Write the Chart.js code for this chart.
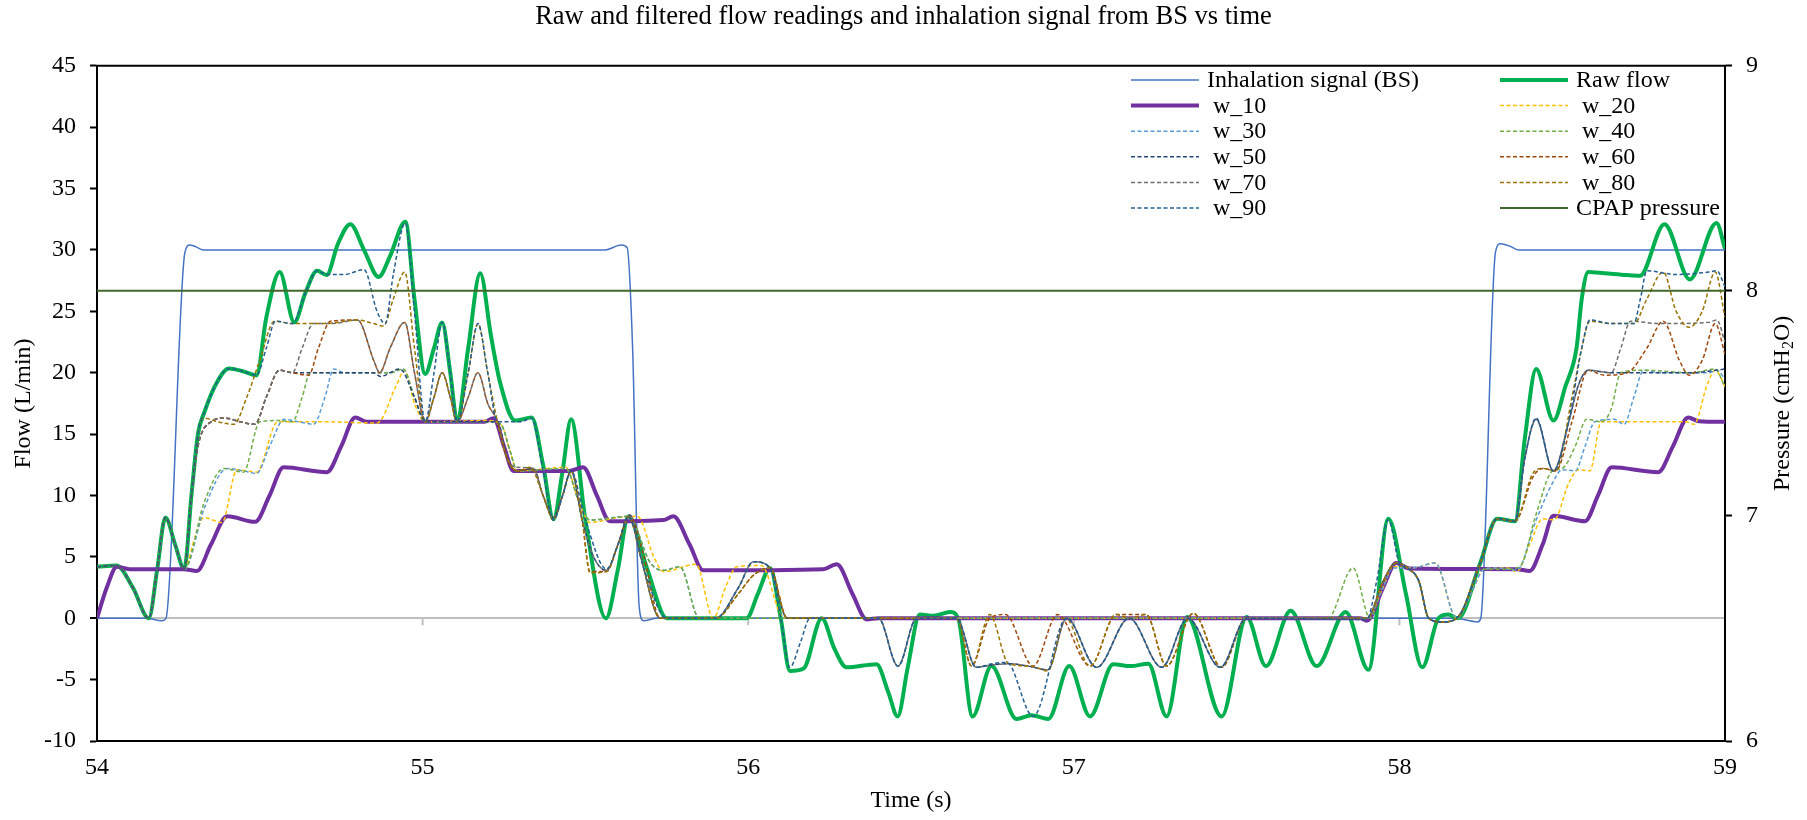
<!DOCTYPE html>
<html>
<head>
<meta charset="utf-8">
<title>Raw and filtered flow readings</title>
<script src="https://cdn.jsdelivr.net/npm/chart.js@4.4.1/dist/chart.umd.min.js"></script>
<style>
    html, body { margin: 0; padding: 0; background: #fff; }
    #wrap { width: 1807px; height: 820px; position: relative; }
</style>
</head>
<body>
<div id="wrap"><canvas id="flowChart"></canvas></div>
<script>
// Séries: pares [tempo (s), valor]
const seriesNames = ['Inhalation signal (BS)', 'Raw flow', ' w_10', ' w_20', ' w_30', ' w_40',
    ' w_50', ' w_60', ' w_70', ' w_80', ' w_90', 'CPAP pressure'];

const inhalationBS = [[54, 0], [54.15, 0], [54.2, -0.2], [54.212, 0], [54.27, 29.8], [54.285, 30.4], [54.3, 30.3],
    [54.326, 30], [55.56, 30], [55.61, 30.4], [55.628, 30.2], [55.645, 22], [55.665, 1], [55.678, -0.2], [55.72, 0],
    [58.17, 0], [58.24, -0.3], [58.25, 0], [58.295, 29.8], [58.31, 30.5], [58.34, 30.3], [58.365, 30], [59, 30]];

const rawFlow = [[54, 4.2], [54.06, 4.3], [54.11, 2.5], [54.159, 0], [54.185, 4], [54.21, 8.2], [54.24, 6], [54.268, 4],
    [54.29, 10], [54.31, 15], [54.33, 16.8], [54.368, 19.2], [54.405, 20.35], [54.45, 20.1], [54.49, 19.8], [54.52, 24.5],
    [54.561, 28.2], [54.606, 24.1], [54.64, 26.5], [54.676, 28.3], [54.705, 27.95], [54.74, 30.5], [54.778, 32.1],
    [54.82, 30], [54.865, 27.8], [54.9, 29.5], [54.947, 32.3], [54.975, 26], [55.008, 19.9], [55.035, 22], [55.06, 24.1],
    [55.085, 20], [55.106, 16.1], [55.14, 22], [55.177, 28.1], [55.21, 23], [55.238, 19.2], [55.284, 16.1],
    [55.335, 16.35], [55.37, 12.5], [55.402, 8.07], [55.43, 12], [55.456, 16.2], [55.5, 8], [55.563, 0], [55.6, 4],
    [55.632, 8.3], [55.69, 4], [55.75, 0], [55.85, 0], [55.995, 0], [56.03, 2], [56.067, 4.1], [56.1, 0], [56.128, -4.3],
    [56.17, -4.1], [56.226, 0], [56.265, -2.5], [56.302, -4], [56.394, -3.75], [56.43, -6], [56.459, -8], [56.49, -4],
    [56.527, 0.3], [56.57, 0.2], [56.62, 0.5], [56.645, 0], [56.689, -8], [56.747, -3.9], [56.824, -8.2], [56.87, -7.9],
    [56.922, -8.2], [56.986, -3.9], [57.05, -8], [57.121, -3.75], [57.175, -3.9], [57.229, -3.7], [57.285, -8],
    [57.348, 0.1], [57.454, -8], [57.531, 0.1], [57.59, -3.9], [57.666, 0.6], [57.746, -3.9], [57.835, 0.5],
    [57.905, -4.2], [57.966, 8.1], [58.02, 2], [58.07, -4], [58.12, 0], [58.15, 0.3], [58.18, 0], [58.247, 4.4],
    [58.3, 8.1], [58.355, 7.9], [58.385, 14.6], [58.42, 20.3], [58.473, 16.1], [58.51, 18.9], [58.544, 22], [58.56, 26],
    [58.58, 28.2], [58.63, 28.1], [58.7, 27.95], [58.739, 27.9], [58.814, 32.1], [58.892, 27.6], [58.974, 32.2], [59, 30.1]];

const w10 = [[54, 0], [54.03, 2.5], [54.061, 4.2], [54.1, 4], [54.266, 4], [54.307, 3.85], [54.35, 6], [54.4, 8.3],
    [54.486, 7.85], [54.53, 10], [54.573, 12.3], [54.706, 11.9], [54.75, 14], [54.793, 16.35], [54.83, 16], [55.19, 16],
    [55.218, 16.3], [55.25, 14], [55.279, 12], [55.45, 12], [55.493, 12.3], [55.535, 10], [55.575, 7.9], [55.74, 8],
    [55.77, 8.3], [55.82, 6], [55.862, 3.9], [56.23, 4], [56.272, 4.4], [56.32, 2], [56.364, -0.1], [56.4, 0],
    [57.88, 0], [57.9, -0.2], [57.95, 2.5], [57.99, 4.5], [58.03, 4.05], [58.36, 4], [58.4, 3.85], [58.44, 6],
    [58.473, 8.35], [58.57, 7.9], [58.61, 10], [58.652, 12.3], [58.795, 11.9], [58.84, 14], [58.887, 16.35],
    [58.92, 16.05], [59, 16]];

// início comum a todos os filtros tracejados
const dashStart = [[54, 4.2], [54.06, 4.3], [54.11, 2.5], [54.159, 0], [54.185, 4], [54.21, 8.2], [54.24, 6], [54.268, 4]];

const w20 = [...dashStart, [54.3, 6.5], [54.328, 8.2], [54.384, 7.8], [54.43, 12.1], [54.49, 11.9], [54.555, 16],
    [54.7, 16], [54.86, 15.9], [54.92, 19], [54.945, 20.2], [54.975, 17.5], [55.008, 16], [55.2, 16.1], [55.24, 15.8],
    [55.27, 13.5], [55.29, 12], [55.44, 12.3], [55.48, 9.5], [55.514, 7.8], [55.6, 8.2], [55.66, 8.3], [55.71, 5],
    [55.74, 3.8], [55.84, 4.4], [55.893, 0], [55.93, 2.5], [55.965, 4.2], [56.04, 4.3], [56.11, 0], [57.9, 0],
    [57.95, 2.5], [57.98, 4.2], [58.04, 4.1], [58.11, 4.5], [58.176, 0], [58.22, 2], [58.26, 4], [58.33, 4.1],
    [58.36, 3.8], [58.4, 6], [58.44, 8.1], [58.475, 8], [58.52, 11], [58.55, 12.1], [58.585, 12], [58.62, 16],
    [58.7, 16], [58.88, 16], [58.905, 15.8], [58.945, 19], [58.97, 20.2], [59, 18.9]];

const w30 = [...dashStart, [54.33, 9], [54.4, 12.2], [54.45, 12], [54.49, 11.8], [54.53, 14], [54.575, 16.2],
    [54.62, 16], [54.665, 15.8], [54.7, 18], [54.727, 20.3], [54.76, 20], [54.9, 20], [54.94, 20.3], [54.975, 18],
    [55.008, 16], [55.2, 16], [55.24, 15.8], [55.27, 13.5], [55.29, 12], [55.44, 12.2], [55.48, 9.5], [55.514, 8],
    [55.632, 8.3], [55.7, 4.5], [55.74, 3.9], [55.79, 4.2], [55.85, 0], [57.9, 0], [57.95, 2.5], [57.98, 4.1],
    [58.04, 4.1], [58.11, 4.5], [58.176, 0], [58.22, 2], [58.26, 4], [58.3, 4.1], [58.36, 3.9], [58.42, 8],
    [58.47, 11], [58.5, 12.1], [58.54, 12], [58.57, 14], [58.6, 16], [58.66, 16.2], [58.69, 15.8], [58.72, 18],
    [58.75, 20.2], [58.8, 20], [58.95, 20], [58.975, 20.2], [59, 19.5]];

const w40 = [...dashStart, [54.33, 9.5], [54.39, 12.2], [54.45, 11.9], [54.5, 16], [54.56, 16.1], [54.6, 16],
    [54.63, 18], [54.655, 20], [54.72, 20], [54.9, 20], [54.94, 20.3], [54.975, 18], [55.008, 16], [55.2, 16],
    [55.24, 15.8], [55.27, 13.5], [55.29, 12], [55.44, 12.2], [55.48, 9.5], [55.514, 8], [55.632, 8.3], [55.7, 4.5],
    [55.74, 3.9], [55.79, 4.2], [55.85, 0], [57.78, 0], [57.858, 4.1], [57.91, 0], [57.95, 3], [57.99, 4.5],
    [58.03, 4], [58.06, 3], [58.09, 0], [58.13, -0.3], [58.18, 0], [58.25, 4], [58.33, 4], [58.37, 4.2], [58.42, 8.5],
    [58.47, 12], [58.5, 12.2], [58.54, 14], [58.575, 16.2], [58.62, 16], [58.65, 17], [58.68, 20], [58.75, 20.2],
    [58.9, 20], [58.97, 20.3], [59, 18.8]];

const w50 = [...dashStart, [54.29, 10], [54.31, 14], [54.35, 16], [54.395, 16.3], [54.44, 16], [54.485, 15.8],
    [54.52, 18], [54.56, 20.2], [54.6, 20], [54.7, 20], [54.85, 20], [54.87, 19.7], [54.93, 20.3], [54.975, 18],
    [55.008, 16], [55.23, 16], [55.26, 13], [55.29, 12], [55.34, 12.2], [55.37, 10], [55.402, 8.2], [55.43, 10],
    [55.456, 12], [55.49, 8], [55.525, 5], [55.565, 3.9], [55.6, 6], [55.637, 8.4], [55.67, 5], [55.73, 0], [55.9, 0],
    [55.97, 2.5], [56.016, 4.6], [56.067, 4.1], [56.12, 0], [56.4, 0], [56.46, -3.9], [56.517, 0], [56.64, 0],
    [56.7, -4], [56.75, -3.8], [56.8, -3.7], [56.86, -3.9], [56.92, -4.2], [56.978, 0], [57.07, -4], [57.17, 0],
    [57.27, -4], [57.35, 0], [57.45, -4], [57.53, 0], [57.9, 0], [57.95, 3], [57.99, 4.5], [58.03, 4], [58.06, 3],
    [58.09, 0], [58.13, -0.3], [58.176, 0], [58.247, 4.4], [58.3, 8.1], [58.355, 7.9], [58.385, 13], [58.42, 16.2],
    [58.473, 12], [58.52, 16], [58.55, 19], [58.58, 20.2], [58.65, 20], [58.9, 20], [58.97, 20.2], [59, 20.3]];

const w60 = [...dashStart, [54.29, 10], [54.31, 14], [54.35, 16], [54.395, 16.3], [54.44, 16], [54.485, 15.8],
    [54.52, 18], [54.56, 20.2], [54.6, 20], [54.65, 19.8], [54.68, 22], [54.717, 24.2], [54.8, 24.3], [54.85, 21],
    [54.868, 20], [54.9, 22], [54.945, 24.1], [54.975, 20], [55.008, 16], [55.035, 18], [55.06, 20], [55.085, 18],
    [55.106, 16], [55.14, 18], [55.17, 20], [55.2, 17.5], [55.23, 16], [55.26, 13], [55.29, 12], [55.34, 12.2],
    [55.37, 10], [55.402, 8.2], [55.43, 10], [55.456, 12], [55.49, 8], [55.514, 3.8], [55.565, 3.8], [55.6, 6],
    [55.637, 8.3], [55.68, 5], [55.73, 0], [55.9, 0], [55.97, 2], [56.016, 3.5], [56.067, 4.1], [56.12, 0], [56.64, 0],
    [56.686, -3.9], [56.742, 0], [56.79, 0.3], [56.875, -3.9], [56.95, 0.3], [57.05, -3.9], [57.13, 0.3],
    [57.222, 0.3], [57.285, -3.9], [57.367, 0.4], [57.454, -4], [57.53, 0], [57.9, 0], [57.95, 3], [57.99, 4.5],
    [58.03, 4], [58.06, 3], [58.09, 0], [58.13, -0.3], [58.176, 0], [58.247, 4.4], [58.3, 8.1], [58.355, 7.9],
    [58.41, 11.5], [58.44, 12.2], [58.48, 12], [58.53, 16], [58.58, 20.2], [58.63, 19.8], [58.7, 20], [58.76, 22],
    [58.81, 24.2], [58.86, 21], [58.89, 19.8], [58.93, 21], [58.97, 24], [59, 21.5]];

const w70 = [...dashStart, [54.29, 10], [54.31, 14], [54.35, 16], [54.395, 16.3], [54.44, 16], [54.485, 15.8],
    [54.52, 18], [54.56, 20.2], [54.6, 20], [54.63, 22], [54.665, 24], [54.72, 24], [54.8, 24.3], [54.85, 21],
    [54.868, 20], [54.9, 22], [54.945, 24.1], [54.975, 20], [55.008, 16], [55.035, 18], [55.06, 20], [55.085, 18],
    [55.106, 16], [55.14, 18], [55.17, 20], [55.2, 17.5], [55.23, 16], [55.26, 13], [55.29, 12.3], [55.34, 12.2],
    [55.37, 10], [55.402, 8.2], [55.43, 10], [55.456, 12], [55.49, 8], [55.525, 5], [55.565, 3.9], [55.6, 6],
    [55.637, 8.4], [55.67, 5], [55.73, 0], [55.9, 0], [55.97, 2.5], [56.016, 4.6], [56.067, 4.1], [56.12, 0],
    [56.4, 0], [56.46, -3.9], [56.517, 0], [56.64, 0], [56.7, -4], [56.75, -3.8], [56.8, -3.7], [56.86, -3.9],
    [56.92, -4.2], [56.978, 0], [57.07, -4], [57.17, 0], [57.27, -4], [57.35, 0], [57.45, -4], [57.53, 0], [57.9, 0],
    [57.95, 3], [57.99, 4.5], [58.03, 4], [58.06, 3], [58.09, 0], [58.13, -0.3], [58.176, 0], [58.247, 4.4],
    [58.3, 8.1], [58.355, 7.9], [58.385, 13], [58.42, 16.2], [58.473, 12], [58.52, 16], [58.55, 19], [58.58, 20.2],
    [58.65, 20], [58.68, 22], [58.71, 24.2], [58.8, 24], [58.95, 24.1], [58.975, 24.3], [59, 22.5]];

const w80 = [...dashStart, [54.29, 10], [54.31, 15], [54.328, 16.3], [54.37, 16], [54.42, 15.8], [54.46, 18],
    [54.5, 21], [54.545, 24.2], [54.6, 24], [54.7, 24], [54.8, 24.3], [54.85, 24], [54.88, 23.8], [54.91, 26],
    [54.945, 28.2], [54.975, 22], [55.008, 16], [55.035, 18], [55.06, 20], [55.085, 18], [55.106, 16], [55.14, 20],
    [55.17, 24], [55.2, 20], [55.23, 16], [55.26, 13], [55.29, 12], [55.33, 12.3], [55.37, 10], [55.402, 8],
    [55.43, 10], [55.456, 12], [55.49, 8], [55.514, 3.7], [55.565, 3.8], [55.6, 6], [55.632, 8.3], [55.67, 5],
    [55.73, 0], [55.9, 0], [55.97, 2], [56.016, 3.5], [56.067, 4.1], [56.12, 0], [56.64, 0], [56.686, -3.9],
    [56.742, 0.3], [56.8, -3.7], [56.87, -3.9], [56.92, -4.3], [56.975, 0], [57.05, -3.9], [57.13, 0.3], [57.175, 0],
    [57.222, 0.3], [57.285, -3.9], [57.367, 0.4], [57.454, -4], [57.53, 0], [57.9, 0], [57.95, 3], [57.99, 4.5],
    [58.03, 4], [58.06, 3], [58.09, 0], [58.13, -0.3], [58.176, 0], [58.247, 4.4], [58.3, 8.1], [58.355, 7.9],
    [58.41, 11.8], [58.44, 12.2], [58.48, 12], [58.53, 18], [58.56, 22], [58.585, 24.2], [58.65, 24], [58.72, 24],
    [58.76, 26], [58.81, 28.2], [58.85, 25], [58.89, 23.7], [58.93, 25], [58.97, 28.2], [59, 24.5]];

const w90 = [...dashStart, [54.29, 10], [54.31, 15], [54.33, 16.8], [54.368, 19.2], [54.405, 20.35], [54.45, 20.1],
    [54.49, 19.8], [54.52, 22], [54.548, 24.2], [54.6, 24], [54.64, 26.5], [54.676, 28.3], [54.705, 28], [54.76, 28],
    [54.82, 28.4], [54.86, 25], [54.885, 24], [54.91, 28], [54.947, 32.2], [54.975, 25], [55.008, 16], [55.035, 20],
    [55.06, 24.1], [55.085, 20], [55.106, 16], [55.14, 20], [55.17, 24], [55.2, 20], [55.23, 16], [55.3, 16],
    [55.335, 16.3], [55.37, 12], [55.402, 8], [55.43, 10], [55.456, 12], [55.5, 8], [55.565, 4], [55.6, 6],
    [55.632, 8.3], [55.68, 4], [55.75, 0], [55.9, 0], [55.97, 2.5], [56.016, 4.6], [56.067, 4.1], [56.1, 0],
    [56.128, -4], [56.16, -2], [56.19, 0], [56.4, 0], [56.46, -3.9], [56.517, 0], [56.64, 0], [56.7, -4],
    [56.75, -3.7], [56.794, -3.6], [56.875, -8], [56.978, 0], [57.07, -4], [57.17, 0], [57.27, -4], [57.35, 0],
    [57.45, -4], [57.53, 0], [57.9, -0.1], [57.93, 3], [57.966, 8], [58, 4.5], [58.03, 4], [58.06, 3], [58.09, 0],
    [58.13, -0.3], [58.176, 0], [58.247, 4.4], [58.3, 8.1], [58.355, 7.9], [58.385, 13], [58.42, 16.3], [58.473, 12],
    [58.52, 16], [58.56, 22], [58.585, 24.3], [58.65, 24], [58.72, 24], [58.74, 26], [58.76, 28.3], [58.85, 28],
    [58.95, 28.2], [58.975, 28.3], [59, 27]];

const cpapPressure = [[54, 8], [59, 8]];

const allSeries = [inhalationBS, rawFlow, w10, w20, w30, w40, w50, w60, w70, w80, w90, cpapPressure];
const colors = ['#4472c4', '#00b050', '#7030a0', '#ffc000', '#5b9bd5', '#70ad47',
    '#264478', '#9e480e', '#6e6e6e', '#997300', '#255e91', '#43682b'];
const widths = [1.5, 4, 4, 1.5, 1.5, 1.5, 1.5, 1.5, 1.5, 1.5, 1.5, 2];

const serif = '"Liberation Serif", "Times New Roman", serif';
Chart.defaults.font.family = serif;
Chart.defaults.color = '#000';

const datasets = allSeries.map((s, i) => ({
    label: seriesNames[i],
    data: s.map(p => ({ x: p[0], y: p[1] })),
    yAxisID: i === 11 ? 'y2' : 'y',
    borderColor: colors[i],
    borderWidth: widths[i],
    borderDash: (i >= 3 && i <= 10) ? [4, 2.5] : [],
    pointRadius: 0,
    cubicInterpolationMode: 'monotone',
    fill: false,
    order: allSeries.length - i
}));

// linha do zero, borda superior, título da direita e legenda
const extras = {
    id: 'extras',
    beforeDatasetsDraw(chart) {
        const { ctx, scales: { x, y } } = chart;
        const y0 = y.getPixelForValue(0);
        ctx.save();
        ctx.strokeStyle = '#bfbfbf';
        ctx.lineWidth = 2;
        [55, 56, 57, 58].forEach(t => {
            const px = x.getPixelForValue(t);
            ctx.beginPath();
            ctx.moveTo(px, y0);
            ctx.lineTo(px, y0 + 7);
            ctx.stroke();
        });
        ctx.restore();
    },
    afterDraw(chart) {
        const { ctx, chartArea: a } = chart;
        ctx.save();
        ctx.strokeStyle = '#000';
        ctx.lineWidth = 2;
        ctx.beginPath();
        ctx.moveTo(a.left - 1, a.top);
        ctx.lineTo(a.right + 1, a.top);
        ctx.stroke();

        // título do eixo da direita, com subscrito
        ctx.translate(1783, (a.top + a.bottom) / 2);
        ctx.rotate(-Math.PI / 2);
        ctx.textBaseline = 'middle';
        const parts = [['Pressure (cmH', 24, 0], ['2', 16, 6], ['O)', 24, 0]];
        let total = 0;
        parts.forEach(p => { ctx.font = p[1] + 'px ' + serif; total += ctx.measureText(p[0]).width; });
        let px = -total / 2;
        ctx.fillStyle = '#000';
        parts.forEach(p => {
            ctx.font = p[1] + 'px ' + serif;
            ctx.fillText(p[0], px, p[2]);
            px += ctx.measureText(p[0]).width;
        });
        ctx.restore();

        // legenda em duas colunas
        ctx.save();
        ctx.font = '24px ' + serif;
        ctx.textBaseline = 'middle';
        ctx.fillStyle = '#000';
        chart.data.datasets.forEach((ds, i) => {
            const col = i % 2;
            const row = Math.floor(i / 2);
            const ly = 80 + row * 25.6;
            const x0 = col === 0 ? 1131 : 1500;
            ctx.strokeStyle = ds.borderColor;
            ctx.lineWidth = ds.borderWidth;
            ctx.setLineDash(ds.borderDash);
            ctx.beginPath();
            ctx.moveTo(x0, ly);
            ctx.lineTo(x0 + 68, ly);
            ctx.stroke();
            ctx.setLineDash([]);
            ctx.fillText(ds.label, x0 + 76, ly + 1);
        });
        ctx.restore();
    }
};

const chartCanvas = document.getElementById('flowChart');
new Chart(chartCanvas.getContext('2d'), {
    type: 'line',
    data: { datasets: datasets },
    plugins: [extras],
    options: {
        responsive: true,
        maintainAspectRatio: false,
        animation: false,
        layout: { padding: 0 },
        plugins: {
            legend: { display: false },
            tooltip: { enabled: false },
            title: {
                display: true,
                text: 'Raw and filtered flow readings and inhalation signal from BS vs time',
                font: { size: 26.5, weight: 'normal' },
                color: '#000',
                padding: { top: 1, bottom: 33 }
            }
        },
        scales: {
            x: {
                type: 'linear',
                min: 54,
                max: 59,
                ticks: { stepSize: 1, font: { size: 24 }, padding: 12, color: '#000' },
                grid: { display: false, drawTicks: false },
                border: { color: '#000', width: 2 },
                title: { display: true, text: 'Time (s)', font: { size: 24 }, padding: { top: 0, bottom: 5 } },
                afterFit: s => { s.height = 79; }
            },
            y: {
                position: 'left',
                min: -10,
                max: 45,
                ticks: { stepSize: 5, font: { size: 24 }, padding: 14, color: '#000' },
                grid: {
                    color: c => c.tick && c.tick.value === 0 ? '#bfbfbf' : 'rgba(0,0,0,0)',
                    lineWidth: c => c.tick && c.tick.value === 0 ? 2 : 1,
                    tickColor: '#000',
                    tickLength: 7,
                    tickWidth: 2
                },
                border: { color: '#000', width: 2 },
                title: { display: true, text: 'Flow (L/min)', font: { size: 24 }, padding: { top: 9, bottom: 0 } },
                afterFit: s => { s.width = 97; }
            },
            y2: {
                position: 'right',
                min: 6,
                max: 9,
                ticks: { stepSize: 1, font: { size: 24 }, padding: 14, color: '#000' },
                grid: { drawOnChartArea: false, tickColor: '#000', tickLength: 7, tickWidth: 2 },
                border: { color: '#000', width: 2 },
                afterFit: s => { s.width = 82; }
            }
        }
    }
});
</script>
</body>
</html>
